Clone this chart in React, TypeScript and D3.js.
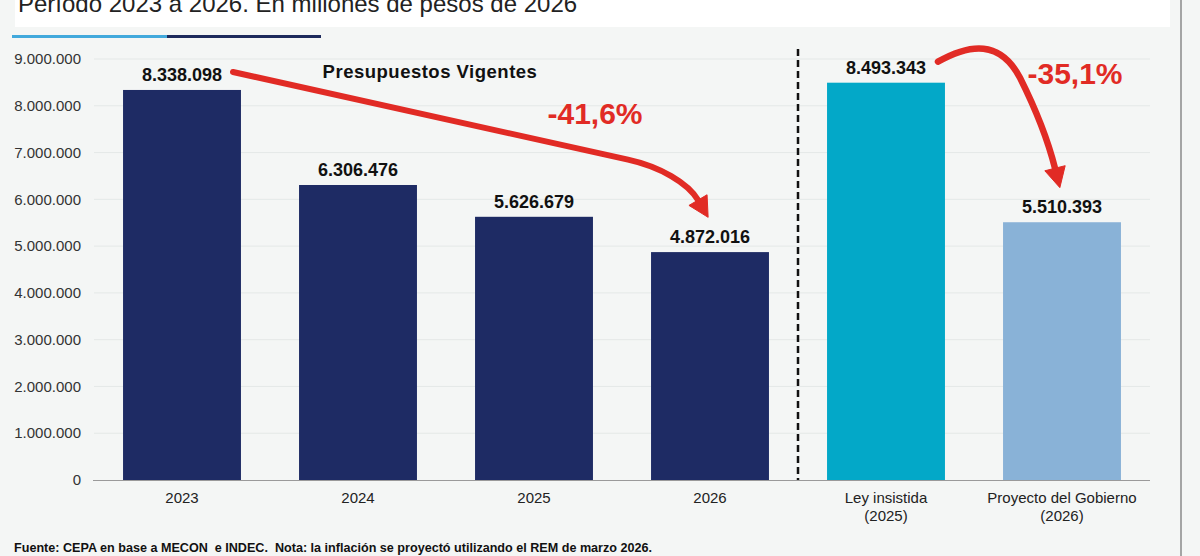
import React from "react";
import * as d3 from "d3";

const categories = ["2023", "2024", "2025", "2026", "Ley insistida|(2025)", "Proyecto del Gobierno|(2026)"];
const values = [8338098, 6306476, 5626679, 4872016, 8493343, 5510393];
const barColors = ["#1e2b64", "#1e2b64", "#1e2b64", "#1e2b64", "#03a8c8", "#89b2d7"];
const yTicks = [0, 1000000, 2000000, 3000000, 4000000, 5000000, 6000000, 7000000, 8000000, 9000000];
const titleText = "Período 2023 a 2026. En millones de pesos de 2026";
const groupLabel = "Presupuestos Vigentes";
const changeLabels = ["-41,6%", "-35,1%"];
const footnote = "Fuente: CEPA en base a MECON  e INDEC.  Nota: la inflación se proyectó utilizando el REM de marzo 2026.";

const W = 1200;
const H = 556;
const fmt = (v: number) => d3.format(",")(v).replace(/,/g, ".");

function arrowHead(bx: number, by: number, cx: number, cy: number, len: number, half: number) {
  const dx = bx - cx;
  const dy = by - cy;
  const n = Math.hypot(dx, dy);
  const ux = dx / n, uy = dy / n;
  const px = -uy, py = ux;
  const tip = [bx + ux * len, by + uy * len];
  const a = [bx + px * half, by + py * half];
  const b = [bx - px * half, by - py * half];
  return `M${a[0]},${a[1]} L${tip[0]},${tip[1]} L${b[0]},${b[1]} Z`;
}

export default function App() {
  const x = d3.scaleBand<string>().domain(categories).range([94, 1150]).paddingInner(0.33).paddingOuter(0.165);
  const y = d3.scaleLinear().domain([0, 9000000]).range([480, 59]);
  const bw = x.bandwidth();
  const cx = (i: number) => (x(categories[i]) as number) + bw / 2;
  const labelY = (i: number) => y(values[i]) - 9;

  // Arrow 1: from label of 2023 to above label of 2026
  const s1x = cx(0) + 51, s1y = labelY(0) - 9;
  const e1x = cx(3) - 12, e1y = labelY(3) - 43;
  const m1x = 628, m1y = s1y + (m1x - s1x) * 0.222;
  const path1 = d3.path();
  path1.moveTo(s1x, s1y);
  path1.lineTo(m1x, m1y);
  path1.bezierCurveTo(m1x + 32, m1y + 7, e1x - 10, e1y - 17, e1x, e1y);
  const head1 = arrowHead(e1x, e1y, e1x - 10, e1y - 17, 20, 10.5);

  // Arrow 2: from label of Ley insistida to above label of Proyecto
  const s2x = cx(4) + 52, s2y = labelY(4) - 12;
  const e2x = cx(5) - 7, e2y = labelY(5) - 45;
  const path2 = d3.path();
  path2.moveTo(s2x, s2y);
  path2.bezierCurveTo(s2x + 32, s2y - 18, s2x + 62, s2y - 22, s2x + 82, s2y + 16);
  path2.bezierCurveTo(s2x + 97, s2y + 46, e2x - 7, e2y - 28, e2x, e2y);
  const head2 = arrowHead(e2x, e2y, e2x - 7, e2y - 28, 20, 10.5);

  const sep = (cx(3) + cx(4)) / 2;

  return (
    <div style={{ position: "absolute", left: 0, top: 0, width: W, height: H }}>
      <svg width={W} height={H} style={{ display: "block", fontFamily: "'Liberation Sans', Arial, sans-serif" }}>
        <rect x={0} y={0} width={W} height={H} fill="#f4f6f5" />
        <rect x={15} y={0} width={1155} height={27} fill="#ffffff" />
        <text x={18} y={12} fontSize={24} fill="#222">{titleText}</text>
        <line x1={12} x2={167} y1={36.5} y2={36.5} stroke="#42a9dc" strokeWidth={3} />
        <line x1={167} x2={321} y1={36.5} y2={36.5} stroke="#1d2a5c" strokeWidth={3} />
        <line x1={1181} x2={1181} y1={0} y2={H} stroke="#8a8a8a" strokeWidth={1.5} />

        {yTicks.map((t) => (
          <g key={t}>
            {t > 0 && <line x1={94} x2={1150} y1={y(t)} y2={y(t)} stroke="#e4e8e7" strokeWidth={1} />}
            <text x={81} y={y(t)} dy="0.35em" textAnchor="end" fontSize={15} fill="#333">
              {fmt(t)}
            </text>
          </g>
        ))}

        {categories.map((c, i) => (
          <rect key={c} x={x(c)} y={y(values[i])} width={bw} height={y(0) - y(values[i])} fill={barColors[i]} />
        ))}
        <line x1={93} x2={1150} y1={480.5} y2={480.5} stroke="#9a9a9a" strokeWidth={1.2} />

        {categories.map((c, i) => (
          <text key={"v" + c} x={cx(i)} y={labelY(i)} textAnchor="middle" fontSize={18} fontWeight="bold" fill="#111">
            {fmt(values[i])}
          </text>
        ))}

        {categories.map((c, i) =>
          c.split("|").map((part, j) => (
            <text key={"c" + c + j} x={cx(i)} y={503 + j * 18} textAnchor="middle" fontSize={15} fill="#222">
              {part}
            </text>
          ))
        )}

        <line x1={sep} x2={sep} y1={49} y2={480} stroke="#111" strokeWidth={2.5} strokeDasharray="7,4" />

        <text x={430} y={78} textAnchor="middle" fontSize={18.5} fontWeight="bold" letterSpacing={0.5} fill="#111">
          {groupLabel}
        </text>

        <path d={path1.toString()} fill="none" stroke="#e12b25" strokeWidth={6} strokeLinecap="round" strokeLinejoin="round" />
        <path d={head1} fill="#e12b25" stroke="#e12b25" strokeWidth={1} strokeLinejoin="round" />
        <path d={path2.toString()} fill="none" stroke="#e12b25" strokeWidth={6.5} strokeLinecap="round" />
        <path d={head2} fill="#e12b25" stroke="#e12b25" strokeWidth={1} strokeLinejoin="round" />

        <text x={595} y={124} textAnchor="middle" fontSize={30} fontWeight="bold" fill="#e12b25">
          {changeLabels[0]}
        </text>
        <text x={1075} y={84} textAnchor="middle" fontSize={30} fontWeight="bold" fill="#e12b25">
          {changeLabels[1]}
        </text>

        <text
          x={14}
          y={552}
          fontSize={13}
          fontWeight="bold"
          fill="#111"
          textLength={638}
          lengthAdjust="spacingAndGlyphs"
          style={{ whiteSpace: "pre", fontFamily: "'Liberation Sans Narrow', 'Arial Narrow', 'Liberation Sans', sans-serif" }}
        >
          {footnote}
        </text>
      </svg>
    </div>
  );
}
